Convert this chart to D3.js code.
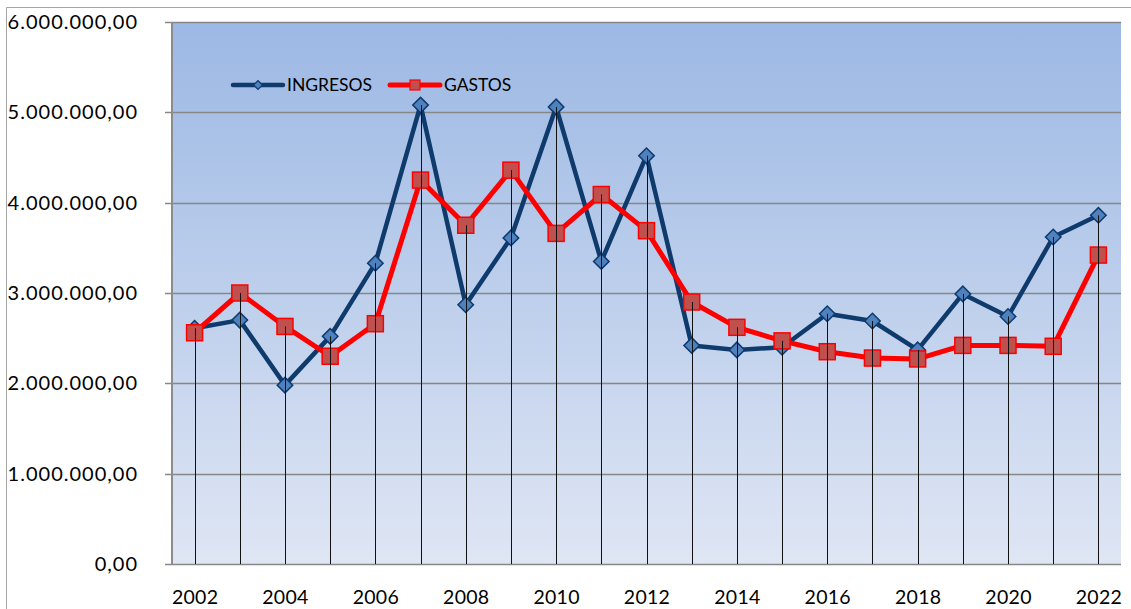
<!DOCTYPE html>
<html>
<head>
<meta charset="utf-8">
<script src="https://cdn.jsdelivr.net/npm/d3@7"></script>
<style>
  body { margin: 0; background: #fff; }
  svg { display: block; font-family: Lato, "Open Sans", sans-serif; }
</style>
</head>
<body>
<div id="chart"></div>
<script>
const years = ["2002","2003","2004","2005","2006","2007","2008","2009","2010","2011","2012",
               "2013","2014","2015","2016","2017","2018","2019","2020","2021","2022"]
const ingresos = [2610000, 2700000, 1980000, 2520000, 3330000, 5080000, 2870000, 3610000, 5060000, 3350000, 4520000,
                  2420000, 2370000, 2400000, 2770000, 2690000, 2370000, 2990000, 2740000, 3620000, 3860000]
const gastos = [2560000, 3000000, 2630000, 2300000, 2660000, 4250000, 3750000, 4360000, 3660000, 4090000, 3690000,
                2900000, 2620000, 2470000, 2350000, 2280000, 2270000, 2420000, 2420000, 2410000, 3420000]
const yTicks = [0, 1000000, 2000000, 3000000, 4000000, 5000000, 6000000]
const xLabels = ["2002","2004","2006","2008","2010","2012","2014","2016","2018","2020","2022"]
const seriesNames = ["INGRESOS", "GASTOS"]

const width = 1131, height = 609
const plot = { left: 172, right: 1121, top: 22, bottom: 564 }

const svg = d3.select("#chart").append("svg")
  .attr("width", width)
  .attr("height", height)

// outer chart frame (only top and left edges visible)
svg.append("path")
  .attr("d", `M6.5,${height} V7.5 H${width}`)
  .attr("fill", "none")
  .attr("stroke", "#a6a6a6")
  .attr("stroke-width", 1)

const x = d3.scalePoint().domain(years).range([plot.left, plot.right]).padding(0.5)
const y = d3.scaleLinear().domain([0, 6000000]).range([plot.bottom, plot.top])

// plot background gradient
const defs = svg.append("defs")
const grad = defs.append("linearGradient")
  .attr("id", "bg").attr("x1", 0).attr("y1", 0).attr("x2", 0).attr("y2", 1)
grad.append("stop").attr("offset", "0%").attr("stop-color", "#9cb8e4")
grad.append("stop").attr("offset", "100%").attr("stop-color", "#dfe6f4")

svg.append("rect")
  .attr("x", plot.left).attr("y", plot.top)
  .attr("width", plot.right - plot.left).attr("height", plot.bottom - plot.top)
  .attr("fill", "url(#bg)")

// gridlines
svg.append("g")
  .selectAll("line")
  .data(yTicks)
  .join("line")
  .attr("x1", plot.left - 7)
  .attr("x2", plot.right)
  .attr("y1", d => Math.round(y(d)) + 0.5)
  .attr("y2", d => Math.round(y(d)) + 0.5)
  .attr("stroke", "#878787")
  .attr("stroke-width", 1.3)

// left axis line
svg.append("line")
  .attr("x1", plot.left).attr("x2", plot.left)
  .attr("y1", plot.top).attr("y2", plot.bottom)
  .attr("stroke", "#8c8c8c")
  .attr("stroke-width", 2)

// y axis labels
const es = d3.formatLocale({ decimal: ",", thousands: ".", grouping: [3], currency: ["", ""] })
const fmt = es.format(",.2f")
const yAxis = svg.append("g")
  .attr("transform", `translate(${plot.left},0)`)
  .call(d3.axisLeft(y).tickValues(yTicks).tickFormat(fmt).tickSize(0).tickPadding(34))
yAxis.select(".domain").remove()
yAxis.selectAll("text")
  .attr("font-family", "Lato, sans-serif")
  .attr("font-size", "20px")
  .attr("letter-spacing", "1px")
  .attr("fill", "#000")

// x axis labels
const xAxis = svg.append("g")
  .attr("transform", `translate(0,${plot.bottom})`)
  .call(d3.axisBottom(x).tickValues(xLabels).tickSize(0).tickPadding(26))
xAxis.select(".domain").remove()
xAxis.selectAll("text")
  .attr("font-family", "Lato, sans-serif")
  .attr("font-size", "19.5px")
  .attr("letter-spacing", "0.3px")
  .attr("fill", "#000")

const ingresosColor = "#0e3a6c"
const gastosColor = "#ff0000"

const lineI = d3.line().x((d, i) => x(years[i])).y(d => y(d))

// INGRESOS line + markers
svg.append("path")
  .datum(ingresos)
  .attr("d", lineI)
  .attr("fill", "none")
  .attr("stroke", ingresosColor)
  .attr("stroke-width", 4.5)
  .attr("stroke-linejoin", "round")

const diamond = d3.symbol().type(d3.symbolSquare).size(120)
svg.append("g")
  .selectAll("path")
  .data(ingresos)
  .join("path")
  .attr("d", diamond)
  .attr("transform", (d, i) => `translate(${x(years[i])},${y(d)}) rotate(45)`)
  .attr("fill", "#4f81bd")
  .attr("stroke", ingresosColor)
  .attr("stroke-width", 1.5)

// GASTOS line + markers
svg.append("path")
  .datum(gastos)
  .attr("d", lineI)
  .attr("fill", "none")
  .attr("stroke", gastosColor)
  .attr("stroke-width", 5)
  .attr("stroke-linejoin", "round")

const sq = 16
svg.append("g")
  .selectAll("rect")
  .data(gastos)
  .join("rect")
  .attr("x", (d, i) => x(years[i]) - sq / 2)
  .attr("y", d => y(d) - sq / 2)
  .attr("width", sq)
  .attr("height", sq)
  .attr("fill", "#c0504d")
  .attr("stroke", gastosColor)
  .attr("stroke-width", 1.5)

// drop lines from the highest point down to the axis
svg.append("g")
  .selectAll("line")
  .data(years)
  .join("line")
  .attr("x1", d => Math.round(x(d)) + 0.5)
  .attr("x2", d => Math.round(x(d)) + 0.5)
  .attr("y1", (d, i) => y(Math.max(ingresos[i], gastos[i])))
  .attr("y2", plot.bottom)
  .attr("stroke", "#111")
  .attr("stroke-width", 1)

// legend
const legend = svg.append("g").attr("transform", "translate(233,85)")
const items = [
  { name: seriesNames[0], x: 0, color: ingresosColor },
  { name: seriesNames[1], x: 157, color: gastosColor }
]
const li = legend.selectAll("g")
  .data(items)
  .join("g")
  .attr("transform", d => `translate(${d.x},0)`)

li.append("line")
  .attr("x1", 0).attr("x2", 50)
  .attr("stroke", d => d.color)
  .attr("stroke-width", d => d.name === "GASTOS" ? 5 : 4.5)
  .attr("stroke-linecap", "round")

li.filter(d => d.name === "INGRESOS")
  .append("path")
  .attr("d", d3.symbol().type(d3.symbolSquare).size(40))
  .attr("transform", "translate(25,0) rotate(45)")
  .attr("fill", "#4f81bd")
  .attr("stroke", ingresosColor)
  .attr("stroke-width", 1.2)

li.filter(d => d.name === "GASTOS")
  .append("rect")
  .attr("x", 20).attr("y", -5)
  .attr("width", 10).attr("height", 10)
  .attr("fill", "#c0504d")
  .attr("stroke", gastosColor)
  .attr("stroke-width", 1.2)

li.append("text")
  .attr("x", 54)
  .attr("dy", "0.36em")
  .attr("font-family", "Lato, sans-serif")
  .attr("font-size", "17.5px")
  .attr("fill", "#000")
  .text(d => d.name)
</script>
</body>
</html>
